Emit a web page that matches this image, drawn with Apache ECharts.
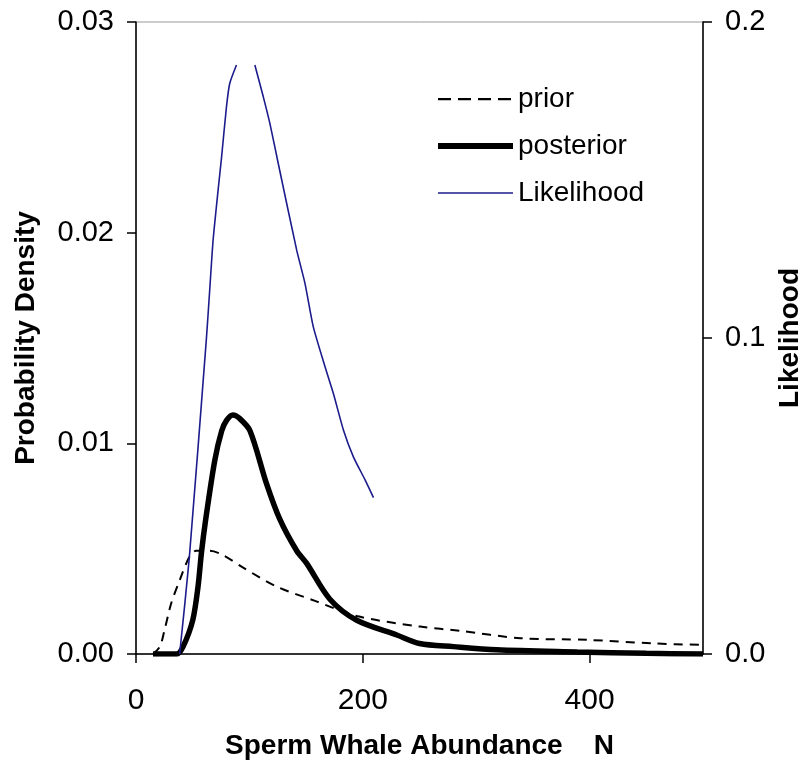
<!DOCTYPE html>
<html>
<head>
<meta charset="utf-8">
<script src="https://cdn.jsdelivr.net/npm/echarts@6/dist/echarts.min.js"></script>
<style>html,body{margin:0;padding:0;background:#fff;}#c{width:811px;height:774px;}</style>
</head>
<body>
<div id="c"></div>
<script>
// Data
var priorN   = [15, 21, 25, 31, 38.5, 47, 53, 59, 65, 76.6, 94.5, 124, 159, 194.7, 250.6, 286, 339, 398, 457, 500];
var priorVal = [0, 0.00035, 0.0011, 0.0024, 0.0035, 0.0046, 0.0049, 0.0049, 0.0049, 0.0047, 0.0041, 0.0032, 0.0025, 0.0018, 0.0013, 0.0011, 0.00075, 0.00067, 0.0005, 0.00043];

var postN   = [15, 36, 41.5, 50, 54.7, 57.7, 61.5, 69.5, 75.6, 80, 85.4, 91, 100.5, 115, 126.8, 141.7, 150.5, 171, 194.7, 230, 250, 280, 318, 389, 450, 500];
var postVal = [0, 0, 0.00035, 0.0016, 0.0032, 0.0048, 0.0064, 0.0092, 0.0106, 0.0111, 0.01135, 0.0112, 0.0106, 0.0081, 0.0064, 0.0049, 0.0043, 0.0026, 0.0016, 0.0009, 0.0005, 0.00035, 0.0002, 0.0001, 0.00003, 0];

var likeN   = [38.5, 47, 62, 65, 68, 72.4, 75.4, 79.8, 82.7, 88.6, 96, 104.8, 112.2, 118, 125.4, 141.7, 149, 156.3, 166.7, 174, 182.9, 191.7, 202, 209.4];
var likeVal = [0, 0.0304, 0.0994, 0.1152, 0.131, 0.1468, 0.157, 0.1732, 0.1806, 0.1864, null, 0.1864, 0.1764, 0.168, 0.1553, 0.1278, 0.1173, 0.1036, 0.0909, 0.0825, 0.0709, 0.0624, 0.0551, 0.0495];

var xTicks = [0, 200, 400];

function pairs(xs, ys) {
  return xs.map(function (x, i) { return [x, ys[i] === null ? '-' : ys[i]]; });
}

// legend sample icons (75 x 24 box, tiny corner marks fix the box)
var BOX = 'M0,0h0.01v0.01z M75,24h-0.01v-0.01z ';
var iconDashed = 'path://' + BOX + 'M0,11h13v2.2h-13z M20,11h13v2.2h-13z M40,11h13v2.2h-13z M60,11h13v2.2h-13z';
var iconThick = 'path://' + BOX + 'M0,9h75v6h-75z';
var iconThin = 'path://' + BOX + 'M0,11.2h75v1.6h-75z';

var FONT = '"Liberation Sans", Arial, sans-serif';
var chart = echarts.init(document.getElementById('c'), null, {renderer: 'canvas'});
chart.setOption({
  backgroundColor: '#ffffff',
  animation: false,
  textStyle: {fontFamily: FONT},
  grid: {left: 136, right: 108, top: 22, bottom: 120, show: true, borderColor: '#999', borderWidth: 1,
    backgroundColor: 'transparent', containLabel: false, outerBoundsMode: 'none'},
  legend: {
    orient: 'vertical',
    left: 433, top: 80,
    itemWidth: 75, itemHeight: 24, itemGap: 19,
    textStyle: {fontFamily: FONT, fontSize: 28, color: '#000', padding: [0, 0, 0, 0]},
    data: [
      {name: 'prior', icon: iconDashed},
      {name: 'posterior', icon: iconThick},
      {name: 'Likelihood', icon: iconThin}
    ]
  },
  xAxis: {
    type: 'value', min: 0, max: 500, interval: 200,
    name: 'Sperm Whale Abundance    N', nameLocation: 'middle', nameGap: 78,
    nameTextStyle: {fontFamily: FONT, fontSize: 28, fontWeight: 'bold', color: '#000'},
    axisLine: {show: true, lineStyle: {color: '#000', width: 1.5}},
    axisTick: {show: true, length: 9, lineStyle: {color: '#000', width: 1.5}},
    axisLabel: {fontFamily: FONT, fontSize: 30, color: '#000', margin: 32, showMaxLabel: false,
      formatter: function (v) { return xTicks.indexOf(v) >= 0 ? String(v) : ''; }},
    splitLine: {show: false}
  },
  yAxis: [{
    type: 'value', min: 0, max: 0.03, interval: 0.01, position: 'left',
    name: 'Probability Density', nameLocation: 'middle', nameGap: 96, nameRotate: 90,
    nameTextStyle: {fontFamily: FONT, fontSize: 28, fontWeight: 'bold', color: '#000'},
    axisLine: {show: true, lineStyle: {color: '#000', width: 1.5}},
    axisTick: {show: true, length: 9, lineStyle: {color: '#000', width: 1.5}},
    axisLabel: {fontFamily: FONT, fontSize: 29, color: '#000', margin: 22,
      formatter: function (v) { return v.toFixed(2); }},
    splitLine: {show: false}
  }, {
    type: 'value', min: 0, max: 0.2, interval: 0.1, position: 'right',
    name: 'Likelihood', nameLocation: 'middle', nameGap: 66, nameRotate: 90,
    nameTextStyle: {fontFamily: FONT, fontSize: 28, fontWeight: 'bold', color: '#000'},
    axisLine: {show: true, lineStyle: {color: '#000', width: 1.5}},
    axisTick: {show: true, length: 9, lineStyle: {color: '#000', width: 1.5}},
    axisLabel: {fontFamily: FONT, fontSize: 29, color: '#000', margin: 22,
      formatter: function (v) { return v.toFixed(1); }},
    splitLine: {show: false}
  }],
  series: [{
    name: 'prior', type: 'line', yAxisIndex: 0, symbol: 'none', smooth: 0.3,
    data: pairs(priorN, priorVal),
    lineStyle: {color: '#000', width: 2, type: [9, 7]},
    itemStyle: {color: '#000'}
  }, {
    name: 'posterior', type: 'line', yAxisIndex: 0, symbol: 'none', smooth: 0.3,
    data: pairs(postN, postVal),
    lineStyle: {color: '#000', width: 5.5},
    itemStyle: {color: '#000'}
  }, {
    name: 'Likelihood', type: 'line', yAxisIndex: 1, symbol: 'none', smooth: 0.2,
    connectNulls: false,
    data: pairs(likeN, likeVal),
    lineStyle: {color: '#1c1c8c', width: 1.6},
    itemStyle: {color: '#1c1c8c'}
  }]
});
</script>
</body>
</html>
